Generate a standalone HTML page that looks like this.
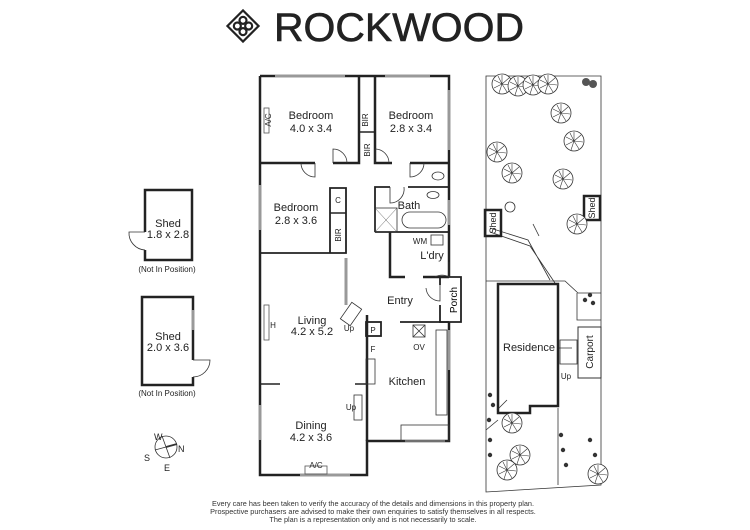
<!DOCTYPE html>
<html><head><meta charset="utf-8"><style>
html,body{margin:0;padding:0;background:#fff;}
svg{display:block;font-family:"Liberation Sans",Arial,sans-serif;}
</style></head><body>
<svg width="750" height="530" viewBox="0 0 750 530" xmlns="http://www.w3.org/2000/svg">
<defs>
<g id="tree"><circle r="10" fill="#fff" stroke="#333" stroke-width="0.8"/>
<path d="M0 0L0-9M0 0L7-6M0 0L9 1M0 0L5 8M0 0L-3 9M0 0L-8 4M0 0L-8-4M0 0L-4-8" stroke="#333" stroke-width="0.6"/></g>
<g id="bush"><circle r="2.2" fill="#333"/></g>
</defs>
<g transform="translate(243,26) rotate(45)" fill="none" stroke="#222" stroke-width="2.2">
<rect x="-11" y="-11" width="22" height="22"/>
<circle cx="-4" cy="-4" r="3.5"/><circle cx="4" cy="-4" r="3.5"/><circle cx="-4" cy="4" r="3.5"/><circle cx="4" cy="4" r="3.5"/>
</g>
<text x="274" y="41" font-size="40" fill="#222" stroke="#222" stroke-width="0.6" textLength="250" lengthAdjust="spacingAndGlyphs">ROCKWOOD</text>

<g fill="none" stroke="#222" stroke-width="2.5">
<path d="M260 76H449V277M449 322V441H367V475H260V76"/>
<path d="M260 163H315M333 163H359V76M375 76V163H392M410 163H449"/>
<path d="M359 132H375" stroke-width="1.5"/>
<path d="M260 253H346V188H330V253" stroke-width="1.8"/>
<path d="M330 213H346" stroke-width="1.5"/>
<path d="M375 232V187H390M408 187H449M375 232H449" stroke-width="1.8"/>
<path d="M390 232V277H405M423 277H449"/>
<path d="M440 277H461V322H440V305M440 277V285" stroke-width="1.8"/>
<path d="M400 322H449" stroke-width="1.8"/>
<path d="M367 315V441"/>
<path d="M260 384H280M355 384H367" stroke-width="1.5"/>
</g>
<g stroke="#999" stroke-width="3">
<path d="M275 76H345M385 76H430M449 90V150M449 200V225M260 185V230M260 405V440M300 475H350M405 441H445M449 330V370M346 258V305"/>
</g>
<g fill="none" stroke="#333" stroke-width="0.8">
<path d="M333 163V149A14 14 0 0 1 347 163"/>
<path d="M375 163V149A14 14 0 0 1 389 163"/>
<path d="M315 163V177A14 14 0 0 1 301 163"/>
<path d="M410 163V177A14 14 0 0 0 424 163"/>
<path d="M390 187V203A14 14 0 0 0 404 187"/>
<path d="M449 262V277A14 14 0 0 0 435 277"/>
<path d="M440 285V301A14 14 0 0 1 426 288"/>
<rect x="345" y="304" width="12" height="20" transform="rotate(35 351 314)"/>
<rect x="354" y="395" width="8" height="25"/>
<rect x="366" y="359" width="9" height="25"/>
<rect x="436" y="330" width="11" height="85"/>
<rect x="401" y="425" width="48" height="16"/>
<rect x="375" y="208" width="22" height="24"/>
<path d="M375 208L397 232M397 208L375 232" stroke-width="0.4"/>
<rect x="402" y="212" width="44" height="16" rx="8"/>
<ellipse cx="438" cy="176" rx="6" ry="4"/>
<ellipse cx="433" cy="195" rx="6" ry="3.5"/>
<rect x="431" y="235" width="12" height="10"/>
<rect x="413" y="325" width="12" height="12"/>
<path d="M413 325L425 337M425 325L413 337"/>
</g>
<rect x="366" y="322" width="15" height="14" fill="none" stroke="#222" stroke-width="1.8"/>
<rect x="264" y="305" width="5" height="35" fill="none" stroke="#555" stroke-width="0.8"/>
<rect x="264" y="108" width="5" height="25" fill="none" stroke="#555" stroke-width="0.8"/>
<rect x="305" y="466" width="22" height="8" fill="none" stroke="#555" stroke-width="0.8"/>

<g font-size="11" fill="#222" text-anchor="middle">
<text x="311" y="119">Bedroom</text><text x="311" y="132">4.0 x 3.4</text>
<text x="411" y="119">Bedroom</text><text x="411" y="132">2.8 x 3.4</text>
<text x="296" y="211">Bedroom</text><text x="296" y="224">2.8 x 3.6</text>
<text x="409" y="209">Bath</text>
<text x="432" y="259">L'dry</text>
<text x="400" y="304">Entry</text>
<text x="312" y="324">Living</text><text x="312" y="335">4.2 x 5.2</text>
<text x="407" y="385">Kitchen</text>
<text x="311" y="429">Dining</text><text x="311" y="441">4.2 x 3.6</text>
<text x="529" y="351">Residence</text>
<text x="168" y="227">Shed</text><text x="168" y="238">1.8 x 2.8</text>
<text x="168" y="340">Shed</text><text x="168" y="351">2.0 x 3.6</text>
</g>
<g font-size="8" fill="#222" text-anchor="middle">
<text x="368" y="120" transform="rotate(-90 368 120)">BIR</text>
<text x="370" y="150" transform="rotate(-90 370 150)">BIR</text>
<text x="341" y="235" transform="rotate(-90 341 235)">BIR</text>
<text x="338" y="203">C</text>
<text x="271" y="120" transform="rotate(-90 271 120)">A/C</text>
<text x="420" y="244">WM</text>
<text x="373" y="333">P</text>
<text x="373" y="352">F</text>
<text x="273" y="328">H</text>
<text x="419" y="350">OV</text>
<text x="349" y="331">Up</text>
<text x="351" y="410">Up</text>
<text x="316" y="468">A/C</text>
<text x="566" y="379">Up</text>
<text x="167" y="272">(Not In Position)</text>
<text x="167" y="396">(Not In Position)</text>
</g>
<text x="457" y="300" font-size="10" text-anchor="middle" transform="rotate(-90 457 300)">Porch</text>

<g fill="none" stroke="#222" stroke-width="2.5">
<path d="M145 232V190H192V260H145V250"/>
<path d="M193 360V297H142V385H193V377"/>
</g>
<path d="M145 232H129A17 17 0 0 0 145 250" fill="none" stroke="#333" stroke-width="0.8"/>
<path d="M193 360H210A17 17 0 0 1 193 377" fill="none" stroke="#333" stroke-width="0.8"/>
<path d="M193 310V330" stroke="#999" stroke-width="3"/>
<g stroke="#333" fill="none" stroke-width="0.8">
<circle cx="166" cy="447" r="11"/><path d="M162 436L170 458M155 450L177 444"/>
<path d="M166 447L177 444" stroke-width="1.8"/>
</g>
<g font-size="9" fill="#222"><text x="154" y="440">W</text><text x="178" y="452">N</text><text x="144" y="461">S</text><text x="164" y="471">E</text></g>

<g fill="none" stroke="#333" stroke-width="0.8">
<path d="M486 76H601V485L486 492Z"/>
<path d="M486 281H565L578 293H601"/>
<path d="M577 293V320H601"/>
<path d="M490 232L530 246L555 283M533 224L539 236M490 228L528 240L550 280"/>
<path d="M558 348H572M558 408V485"/>
<path d="M507 400L497 410M498 420L486 430"/>
<rect x="560" y="340" width="17" height="24"/>
<rect x="578" y="327" width="23" height="51" stroke-width="1"/>
</g>
<g fill="none" stroke="#222" stroke-width="2.5">
<path d="M498 284H558V406H530V413H498Z"/>
<rect x="485" y="210" width="16" height="26"/>
<rect x="584" y="196" width="16" height="24"/>
</g>
<g font-size="9" fill="#222" text-anchor="middle">
<text x="496" y="223" transform="rotate(-90 496 223)">Shed</text>
<text x="595" y="208" transform="rotate(-90 595 208)">Shed</text>
<text x="593" y="352" font-size="10" transform="rotate(-90 593 352)">Carport</text>
</g>
<g>
<use href="#tree" x="502" y="84"/><use href="#tree" x="518" y="86"/><use href="#tree" x="533" y="85"/><use href="#tree" x="548" y="84"/>
<use href="#tree" x="561" y="113"/><use href="#tree" x="574" y="141"/><use href="#tree" x="497" y="152"/>
<use href="#tree" x="512" y="173"/><use href="#tree" x="563" y="179"/><use href="#tree" x="577" y="224"/>
<use href="#tree" x="512" y="423"/><use href="#tree" x="520" y="455"/><use href="#tree" x="507" y="470"/><use href="#tree" x="598" y="474"/>
<circle cx="510" cy="207" r="5" fill="none" stroke="#333" stroke-width="0.8"/>
<circle cx="586" cy="82" r="4" fill="#555"/><circle cx="593" cy="84" r="4" fill="#555"/>
<use href="#bush" x="590" y="295"/><use href="#bush" x="585" y="300"/><use href="#bush" x="593" y="303"/>
<use href="#bush" x="490" y="395"/><use href="#bush" x="493" y="405"/><use href="#bush" x="489" y="420"/><use href="#bush" x="490" y="440"/><use href="#bush" x="490" y="455"/>
<use href="#bush" x="561" y="435"/><use href="#bush" x="563" y="450"/><use href="#bush" x="566" y="465"/>
<use href="#bush" x="590" y="440"/><use href="#bush" x="595" y="455"/>
</g>

<g font-size="7.3" fill="#333" text-anchor="middle">
<text x="373" y="506">Every care has been taken to verify the accuracy of the details and dimensions in this property plan.</text>
<text x="373" y="514">Prospective purchasers are advised to make their own enquiries to satisfy themselves in all respects.</text>
<text x="373" y="522">The plan is a representation only and is not necessarily to scale.</text>
</g>
</svg>
</body></html>
